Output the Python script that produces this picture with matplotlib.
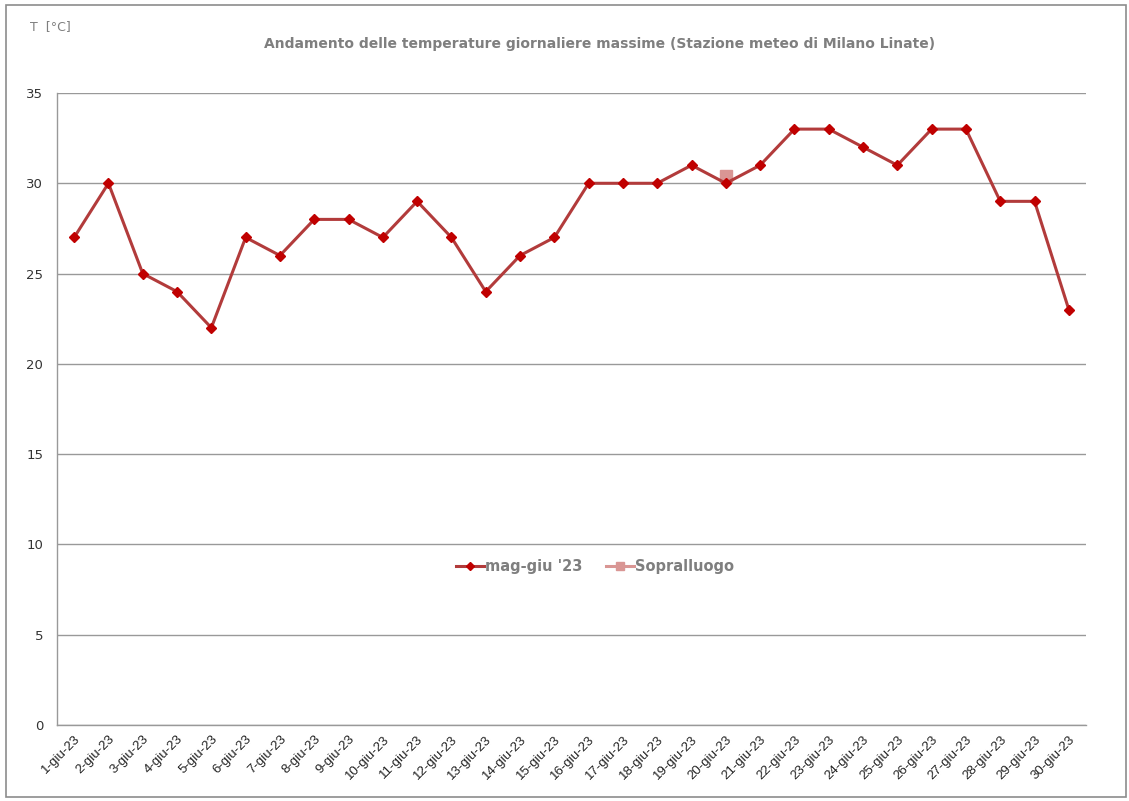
import matplotlib
matplotlib.use("Agg")
import matplotlib.pyplot as plt
from matplotlib.patches import Rectangle

# daily max temperatures, June 2023 (Milano Linate)
days = [f"{d}-giu-23" for d in range(1, 31)]
t_max = [27, 30, 25, 24, 22, 27, 26, 28, 28, 27, 29, 27, 24, 26, 27,
         30, 30, 30, 31, 30, 31, 33, 33, 32, 31, 33, 33, 29, 29, 23]
visit_day = "20-giu-23"
visit_temp = 30.4

GREY = "#7f7f7f"

fig = plt.figure(figsize=(11.29, 8.01), dpi=100)
ax = fig.add_axes([57 / 1129, 1 - 725 / 801, (1086 - 57) / 1129, (725 - 93) / 801])

# frame around the whole chart
fig.patches.append(Rectangle((6 / 1129, 4 / 801), 1120 / 1129, 792 / 801,
                             transform=fig.transFigure, fill=False,
                             edgecolor="#8c8c8c", linewidth=1.2))

x = list(range(len(days)))
ax.plot(x, t_max, color="#b23b3b", linewidth=2.2, marker="D", markersize=5,
        markerfacecolor="#c00000", markeredgecolor="#c00000", label="mag-giu '23")
ax.plot([days.index(visit_day)], [visit_temp], linestyle="-", color="#d99694",
        linewidth=2.2, marker="s", markersize=8, label="Sopralluogo", zorder=1)

ax.set_xlim(-0.5, len(days) - 0.5)
ax.set_ylim(0, 35)
ax.set_yticks(range(0, 36, 5))
ax.yaxis.grid(True, color="#999999", linewidth=1.0)
ax.set_axisbelow(True)

ax.set_xticks(x)
ax.set_xticklabels(days, rotation=45, ha="right", rotation_mode="anchor",
                   fontsize=9.5, family="Liberation Sans", color="#222222")
for lbl in ax.get_yticklabels():
    lbl.set_fontsize(9.5)
    lbl.set_color("#333333")
ax.tick_params(axis="both", length=0, pad=10)
ax.tick_params(axis="x", pad=6)

for side in ["top", "right"]:
    ax.spines[side].set_visible(False)
for side in ["left", "bottom"]:
    ax.spines[side].set_color("#999999")
    ax.spines[side].set_linewidth(1.0)

fig.text(600 / 1129, 1 - 44 / 801,
         "Andamento delle temperature giornaliere massime (Stazione meteo di Milano Linate)",
         ha="center", va="center", fontsize=10, fontweight="bold", color=GREY)
fig.text(30 / 1129, 1 - 27 / 801, "T  [°C]", ha="left", va="center",
         fontsize=9, color=GREY)

leg = ax.legend(loc="center", bbox_to_anchor=(0.523, 0.25), ncol=2, frameon=False,
                handlelength=1.9, columnspacing=1.6, handletextpad=0.1,
                markerscale=0.75, prop={"weight": "bold", "size": 10.5})
for txt in leg.get_texts():
    txt.set_color(GREY)

fig.savefig("out.png", dpi=100)
